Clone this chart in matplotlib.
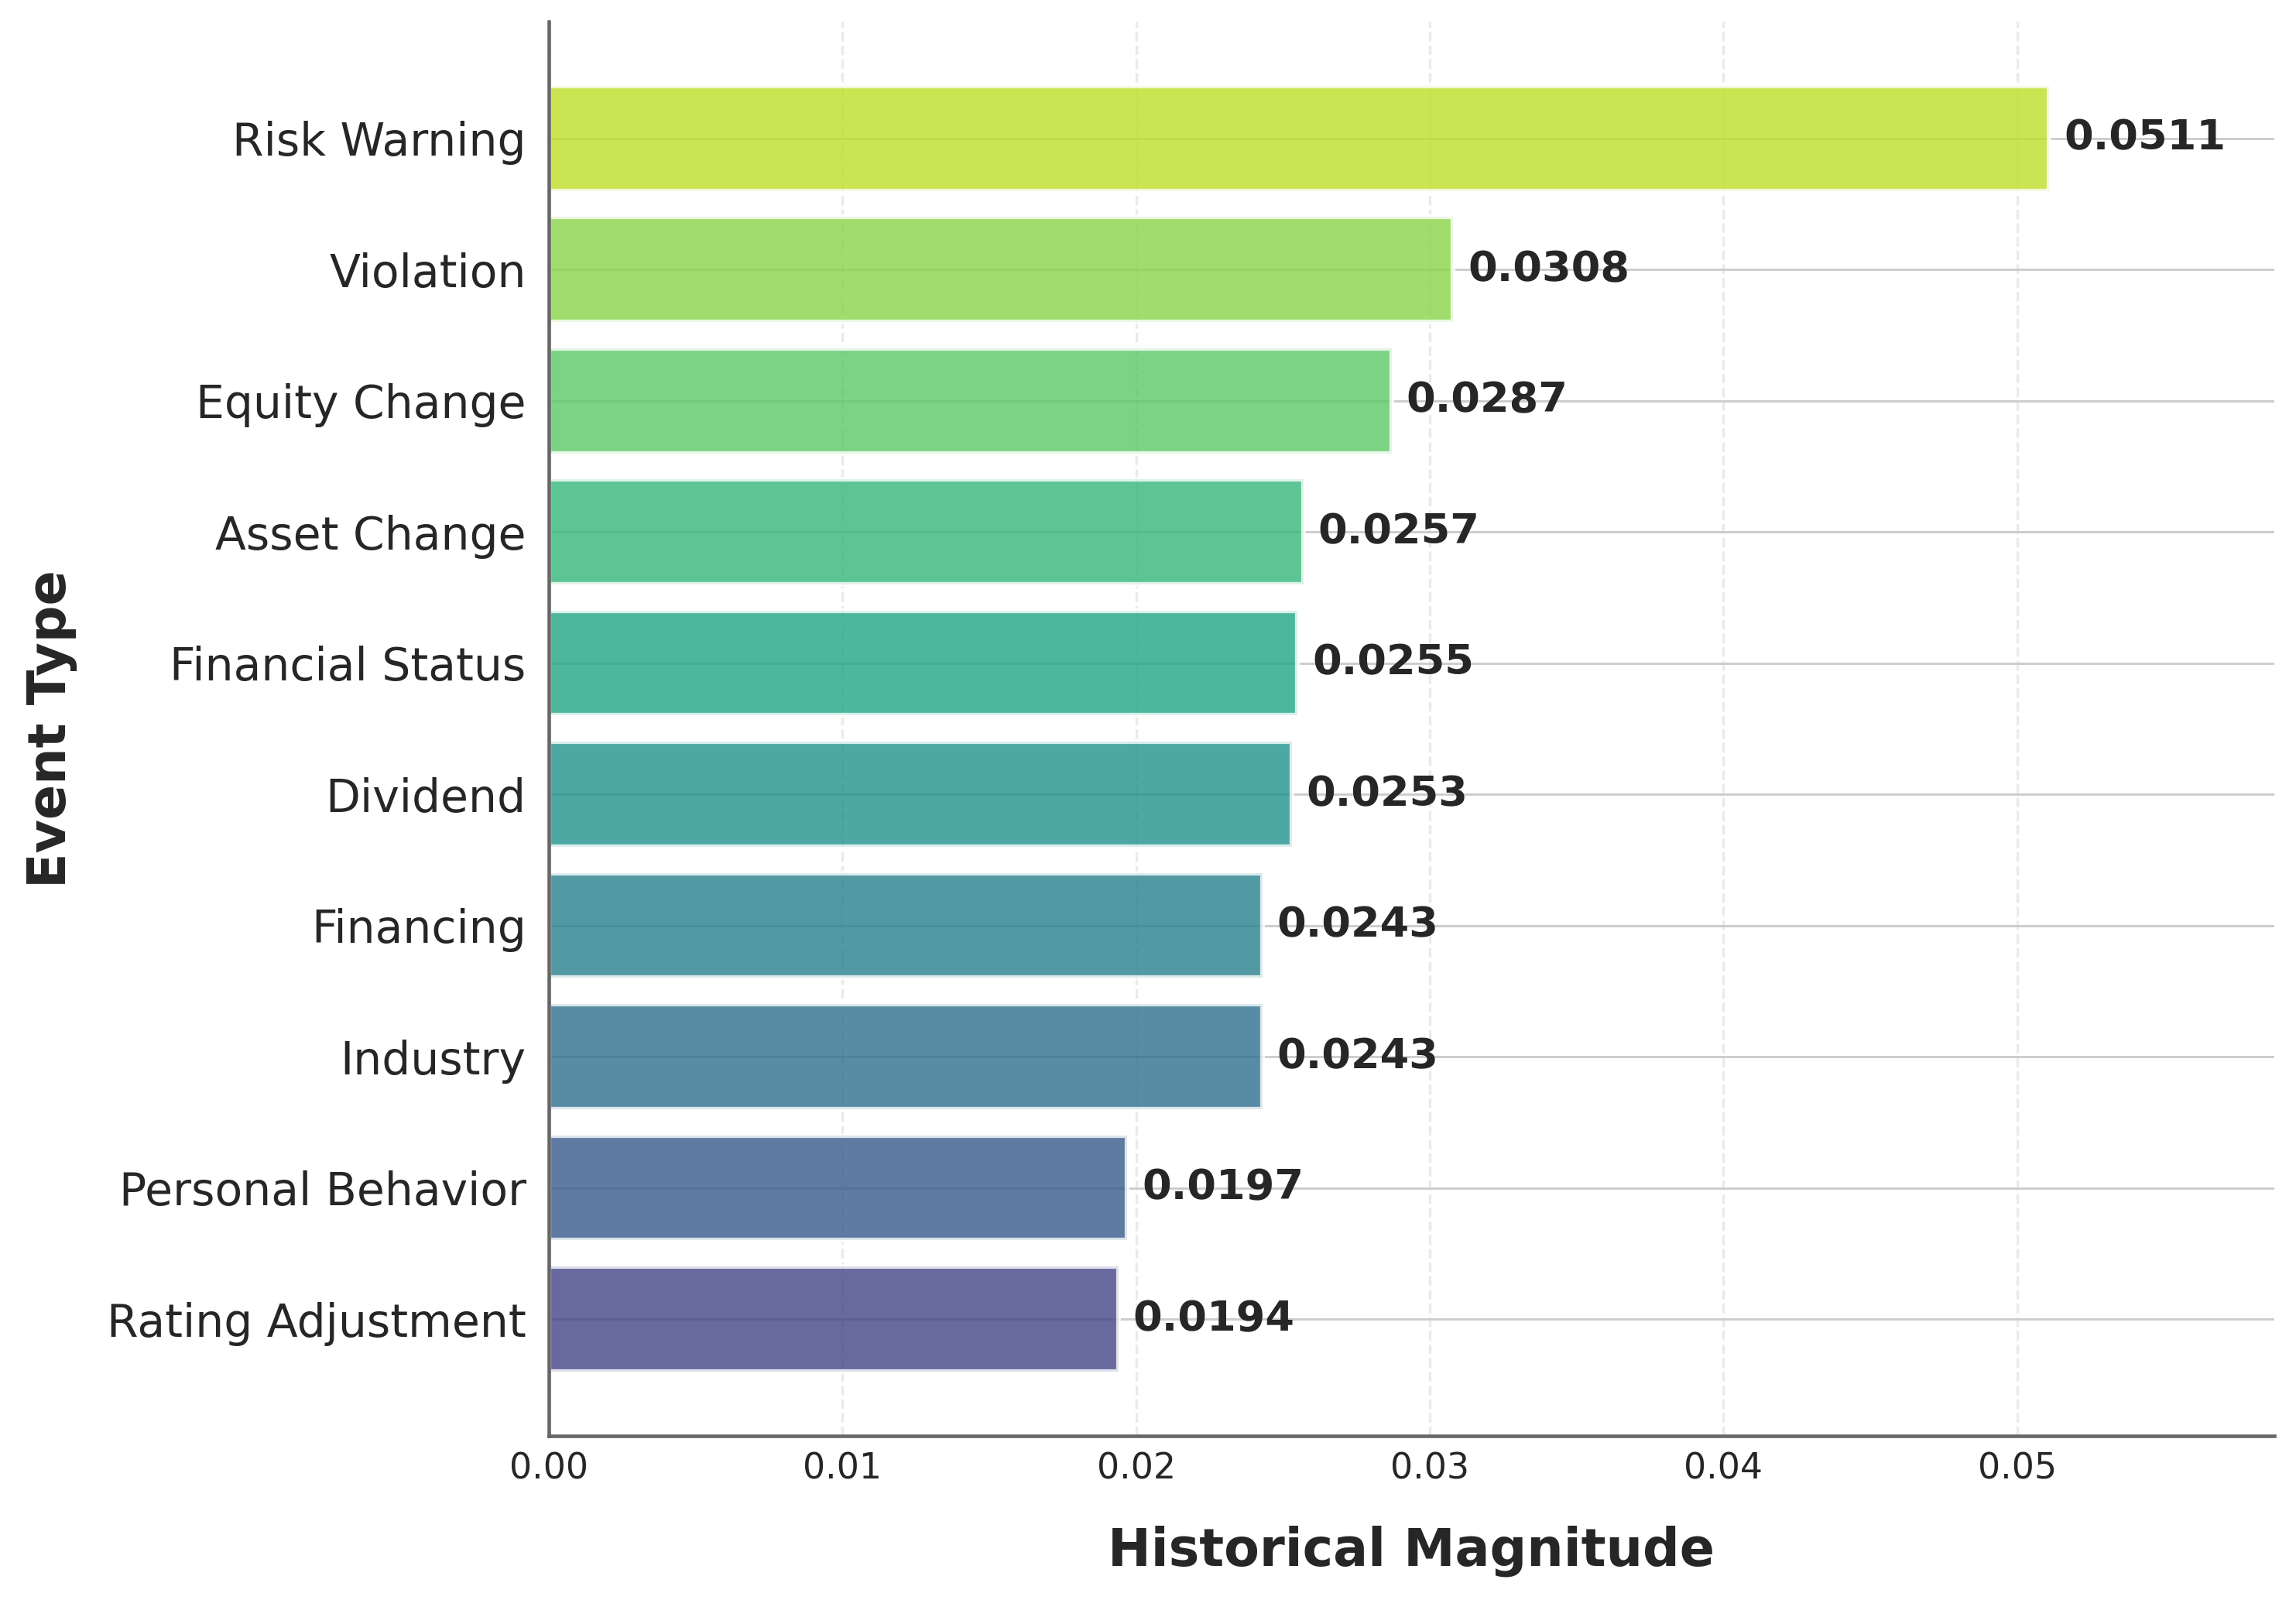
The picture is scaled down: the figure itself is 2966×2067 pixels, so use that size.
import numpy as np
import matplotlib
matplotlib.use("Agg")
import matplotlib.pyplot as plt

# event types, bottom to top
events = ["Rating Adjustment", "Personal Behavior", "Industry", "Financing",
          "Dividend", "Financial Status", "Asset Change", "Equity Change",
          "Violation", "Risk Warning"]
magnitude = [0.0194, 0.0197, 0.0243, 0.0243, 0.0253,
             0.0255, 0.0257, 0.0287, 0.0308, 0.0511]

text_color = "#262626"
plt.rcParams["font.family"] = "DejaVu Sans"
plt.rcParams["text.color"] = text_color

fig = plt.figure(figsize=(2966 / 300, 2067 / 300), dpi=300)
ax = fig.add_axes([0.239, 0.1026, 0.7516, 0.8839])

colors = plt.cm.viridis(np.linspace(0.2, 0.9, len(events)))
y = np.arange(len(events))
bars = ax.barh(y, magnitude, height=0.8, color=colors, alpha=0.8,
               edgecolor="white", linewidth=1.5, zorder=2)

ax.set_xlim(0, max(magnitude) * 1.15)
ax.set_yticks(y)
ax.set_yticklabels(events)

# value labels
for yi, v in zip(y, magnitude):
    ax.text(v + 0.0005, yi, f"{v:.4f}", va="center", ha="left",
            fontsize=13, fontweight="bold", color=text_color, zorder=3)

# grid: solid horizontal, dashed faint vertical
ax.set_axisbelow(True)
ax.grid(axis="y", color="#cccccc", linewidth=0.7, linestyle="-")
ax.grid(axis="x", color="#cccccc", linewidth=0.8, linestyle="--", alpha=0.4)

for side in ["top", "right"]:
    ax.spines[side].set_visible(False)
for side in ["left", "bottom"]:
    ax.spines[side].set_color("#666666")
    ax.spines[side].set_linewidth(1.1)

ax.tick_params(axis="y", length=0, pad=7, labelsize=14, labelcolor=text_color)
ax.tick_params(axis="x", length=0, pad=5, labelsize=11, labelcolor=text_color)

ax.set_xlabel("Historical Magnitude", fontsize=16, fontweight="bold",
              labelpad=12, color=text_color)
ax.set_ylabel("Event Type", fontsize=16, fontweight="bold",
              labelpad=9, color=text_color)

fig.savefig("out.png", dpi=300, facecolor="white")
